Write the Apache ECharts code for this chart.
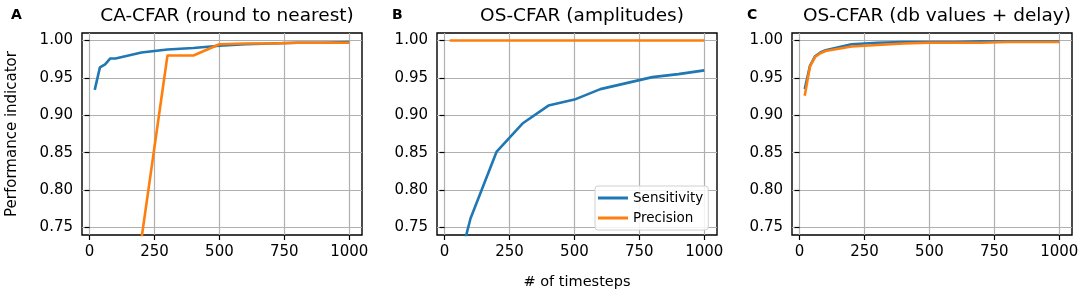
<!DOCTYPE html>
<html>
<head>
<meta charset="utf-8">
<script src="https://cdn.jsdelivr.net/npm/echarts@6/dist/echarts.min.js"></script>
<style>
  html, body { margin: 0; padding: 0; background: #fff; }
  #main { width: 1084px; height: 298px; }
</style>
</head>
<body>
<div id="main"></div>
<script>
var chartDom = document.getElementById("main");
var myChart = echarts.init(chartDom);
var option;

// timesteps shared by all three panels
const timesteps = [20, 40, 60, 80, 100, 200, 300, 400, 500, 600, 700, 800, 900, 1000];

// A: CA-CFAR (round to nearest)
const caSensitivity = [0.934, 0.964, 0.968, 0.976, 0.976, 0.984, 0.988, 0.990, 0.993, 0.995, 0.996, 0.997, 0.997, 0.998];
const caPrecision = [0.40, 0.45, 0.50, 0.55, 0.60, 0.735, 0.980, 0.980, 0.995, 0.996, 0.996, 0.997, 0.997, 0.997];
// B: OS-CFAR (amplitudes)
const osAmpSensitivity = [0.55, 0.65, 0.70, 0.735, 0.762, 0.851, 0.889, 0.913, 0.921, 0.935, 0.943, 0.951, 0.955, 0.960];
const osAmpPrecision = [1, 1, 1, 1, 1, 1, 1, 1, 1, 1, 1, 1, 1, 1];
// C: OS-CFAR (db values + delay)
const osDbSensitivity = [0.935, 0.966, 0.979, 0.984, 0.987, 0.995, 0.997, 0.998, 0.998, 0.998, 0.999, 0.999, 0.999, 0.999];
const osDbPrecision = [0.926, 0.965, 0.978, 0.983, 0.986, 0.992, 0.994, 0.996, 0.997, 0.997, 0.997, 0.998, 0.998, 0.998];

const panelTitles = ["CA-CFAR (round to nearest)", "OS-CFAR (amplitudes)", "OS-CFAR (db values + delay)"];
const panelLetters = ["A", "B", "C"];
const xTicks = [0, 250, 500, 750, 1000];
const yTicks = [0.75, 0.8, 0.85, 0.9, 0.95, 1.0];

const panels = [
  [caSensitivity, caPrecision],
  [osAmpSensitivity, osAmpPrecision],
  [osDbSensitivity, osDbPrecision],
];

const blue = "#1f77b4";
const orange = "#ff7f0e";
const font = "DejaVu Sans";
const lefts = [82, 437, 792];
const plotW = 280;

const grids = lefts.map((left) => ({
  left,
  top: 33,
  width: plotW,
  height: 202,
  show: true,
  borderColor: "#000",
  borderWidth: 1.4,
  backgroundColor: "transparent",
}));

const xAxes = lefts.map((l, i) => ({
  type: "value",
  gridIndex: i,
  min: -29,
  max: 1049,
  name: i === 1 ? "# of timesteps" : "",
  nameLocation: "middle",
  nameGap: 40,
  nameTextStyle: { fontFamily: font, fontSize: 14.5, color: "#000" },
  axisLine: { show: false },
  axisTick: { show: true, length: 5, lineStyle: { color: "#000", width: 1.2 }, customValues: xTicks },
  axisLabel: {
    customValues: xTicks,
    fontFamily: font,
    fontSize: 15,
    color: "#000",
    margin: 10,
    formatter: (v) => String(v),
  },
  splitLine: { show: true, lineStyle: { color: "#b0b0b0", width: 1.2 } },
}));

const yAxes = lefts.map((l, i) => ({
  type: "value",
  gridIndex: i,
  min: 0.74,
  max: 1.01,
  name: i === 0 ? "Performance indicator" : "",
  nameLocation: "middle",
  nameGap: 62,
  nameRotate: 90,
  nameTextStyle: { fontFamily: font, fontSize: 15, color: "#000" },
  axisLine: { show: false },
  axisTick: { show: true, length: 5, lineStyle: { color: "#000", width: 1.2 }, customValues: yTicks },
  axisLabel: {
    customValues: yTicks,
    fontFamily: font,
    fontSize: 15,
    color: "#000",
    margin: 9,
    formatter: (v) => v.toFixed(2),
  },
  splitLine: { show: true, lineStyle: { color: "#b0b0b0", width: 1.2 } },
}));

const series = [];
panels.forEach(([sens, prec], i) => {
  [["Sensitivity", sens, blue], ["Precision", prec, orange]].forEach(([name, vals, color]) => {
    series.push({
      name,
      type: "line",
      xAxisIndex: i,
      yAxisIndex: i,
      data: timesteps.map((t, k) => [t, vals[k]]),
      showSymbol: false,
      symbol: "none",
      clip: true,
      color,
      lineStyle: { color, width: 2.6 },
      emphasis: { disabled: true },
      animation: false,
    });
  });
});

const titles = [];
lefts.forEach((left, i) => {
  titles.push({
    text: panelTitles[i],
    left: left + plotW / 2,
    top: 2,
    textAlign: "center",
    textStyle: { fontFamily: font, fontSize: 18.5, fontWeight: "normal", color: "#000" },
  });
  titles.push({
    text: panelLetters[i],
    left: [6, 387, 742][i],
    top: 3,
    textStyle: { fontFamily: font, fontSize: 14, fontWeight: "bold", color: "#000" },
  });
});

option = {
  animation: false,
  title: titles,
  grid: grids,
  xAxis: xAxes,
  yAxis: yAxes,
  legend: {
    data: ["Sensitivity", "Precision"],
    orient: "vertical",
    left: 595,
    top: 186,
    itemWidth: 30,
    itemHeight: 3,
    itemGap: 6,
    icon: "rect",
    padding: [5, 5, 5, 3],
    borderColor: "#d0d0d0",
    borderWidth: 1,
    borderRadius: 3,
    backgroundColor: "rgba(255,255,255,0.85)",
    selectedMode: false,
    textStyle: { fontFamily: font, fontSize: 13.5, color: "#000" },
  },
  series,
};

option && myChart.setOption(option);
</script>
</body>
</html>
